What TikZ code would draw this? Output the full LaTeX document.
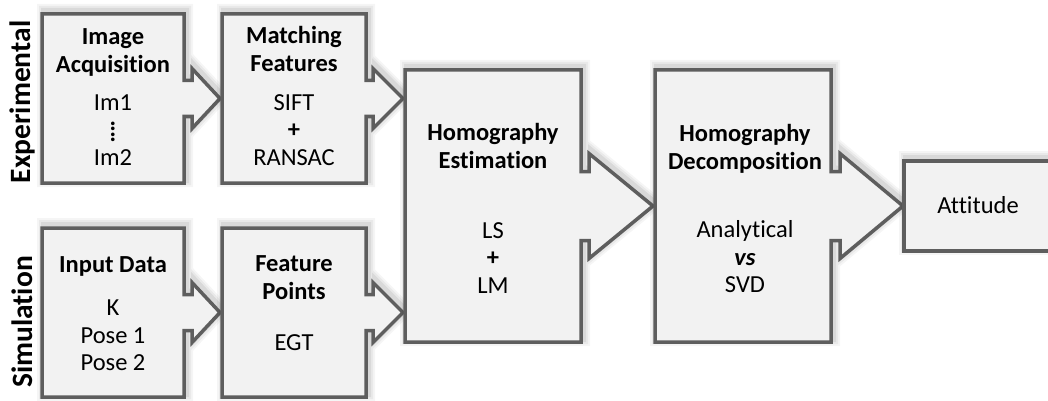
\documentclass[tikz,border=0pt]{standalone}
\usepackage{fontspec}
\setmainfont[Ligatures=NoCommon]{Carlito}
\usepackage{xcolor}
\definecolor{boxfill}{HTML}{F2F2F2}
\definecolor{boxedge}{HTML}{5E5E5E}

\newcommand{\callout}[9]{%
\foreach \w/\o in {14/0.04,10/0.05,6/0.07}
  \draw[line width=\w pt, black, opacity=\o, shift={(2,-3)}] (#1,#2) -- (#3,#2) -- (#3,{#5-#6}) -- (#8,{#5-#6}) -- (#8,{#5-#7}) -- (#9,#5) -- (#8,{#5+#7}) -- (#8,{#5+#6}) -- (#3,{#5+#6}) -- (#3,#4) -- (#1,#4) -- cycle;
\draw[stepline] (#1,#2) -- (#3,#2) -- (#3,{#5-#6}) -- (#8,{#5-#6}) -- (#8,{#5-#7}) -- (#9,#5) -- (#8,{#5+#7}) -- (#8,{#5+#6}) -- (#3,{#5+#6}) -- (#3,#4) -- (#1,#4) -- cycle;}
\newcommand{\boxonly}[4]{%
\foreach \w/\o in {14/0.04,10/0.05,6/0.07}
  \draw[line width=\w pt, black, opacity=\o, shift={(2,-3)}] (#1,#2) rectangle (#3,#4);
\draw[stepline] (#1,#2) rectangle (#3,#4);}
\newcommand{\imdots}{\lower4pt\vbox{\baselineskip=5.5pt\lineskiplimit=-20pt\hbox{\bfseries .}\hbox{\bfseries .}\hbox{\bfseries .}\hbox{\bfseries .}}}

\tikzset{
  stepline/.style={draw=boxedge, line width=3.5pt, fill=boxfill},
  steptitle/.style={font=\fontsize{24.5}{28}\selectfont\bfseries, align=center, inner sep=0pt},
  stepbody/.style={font=\fontsize{24.5}{27.5}\selectfont, align=center, inner sep=0pt},
  sidelabel/.style={font=\fontsize{29.5}{34}\selectfont\bfseries, rotate=90, inner sep=0pt}
}

\begin{document}
\begin{tikzpicture}[x=1pt,y=-1pt]
\path[use as bounding box, clip] (0,0) rectangle (1048,401);

\callout{42}{14}{184}{183}{98.5}{18}{30}{192}{220}
\callout{222}{14}{366}{183}{98.5}{18}{30}{373}{403}
\callout{42}{228}{184}{397}{312.5}{18}{30}{192}{220}
\callout{222}{228}{366}{397}{312.5}{18}{30}{373}{403}
\callout{405}{70}{581}{342}{206}{34.5}{52.5}{589}{653}
\callout{655}{70}{831}{342}{206}{34.5}{52.5}{840}{903}
\boxonly{904}{161}{1058}{251}

\node[sidelabel] (exp) at (22,102) {Experimental};
\node[sidelabel] (sim) at (22,322) {Simulation};

\node[steptitle] (acqtitle) at (113,52) {Image\\Acquisition};
\node[stepbody] (acqbody) at (113,130) {Im1\\\imdots\\Im2};
\node[steptitle] (matchtitle) at (294,49) {Matching\\Features};
\node[stepbody] (matchbody) at (294,130) {SIFT\\\textbf{+}\\RANSAC};
\node[steptitle] (inputtitle) at (113,266) {Input Data};
\node[stepbody] (inputbody) at (113,335.5) {K\\Pose 1\\Pose 2};
\node[steptitle] (feattitle) at (294,278) {Feature\\Points};
\node[stepbody] (featbody) at (294,342.5) {EGT};
\node[steptitle] (esttitle) at (493,145.5) {Homography\\Estimation};
\node[stepbody] (estbody) at (493,258) {LS\\\textbf{+}\\LM};
\node[steptitle] (dectitle) at (745,149) {Homography\\Decomposition};
\node[stepbody] (decbody) at (745,257) {Analytical\\\textbf{\textit{vs}}\\SVD};
\node[stepbody] (att) at (978,205) {Attitude};
\end{tikzpicture}
\end{document}
